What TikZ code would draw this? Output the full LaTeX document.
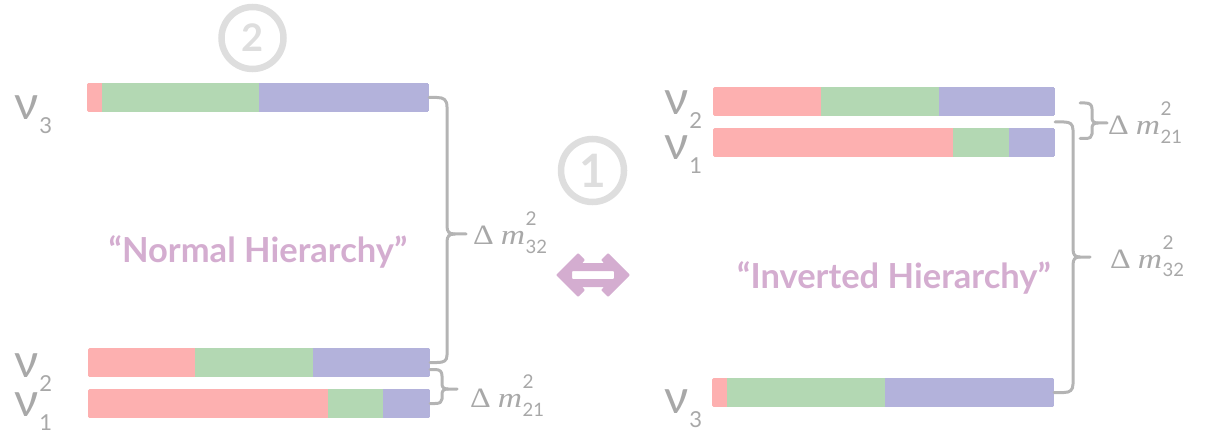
\documentclass[tikz,border=0pt]{standalone}
\usepackage{fontspec}
\setmainfont{Lato}
\newfontfamily\serifm{Liberation Serif}
\usepackage{graphicx}
\usetikzlibrary{fit,calc}
\definecolor{bred}{RGB}{253,176,176}
\definecolor{bgreen}{RGB}{179,216,179}
\definecolor{bblue}{RGB}{179,178,219}
\definecolor{lgrey}{RGB}{168,168,168}
\definecolor{brgrey}{RGB}{180,180,180}
\definecolor{cgrey}{RGB}{222,222,222}
\definecolor{purp}{RGB}{212,173,208}
\newcommand\colbar[7]{%
  \begin{scope}
    \clip[rounded corners=1.5pt] (#2,#6) rectangle (#5,#7);
    \fill[bred] (#2,#6) rectangle (#3,#7);
    \fill[bgreen] (#3,#6) rectangle (#4,#7);
    \fill[bblue] (#4,#6) rectangle (#5,#7);
  \end{scope}
  \node[fit={(#2,#6) (#5,#7)}, inner sep=0pt] (#1) {};
}
\newcommand\nulab[3]{%
  \node[nulabel] (#1) at (#2) {\fontsize{47}{47}\selectfont ν\kern1pt\raisebox{-14pt}{\fontsize{22}{22}\selectfont #3}};
}
\newcommand\dm[1]{\scalebox{1.15}[1]{\serifm Δ}\kern7pt\scalebox{1.2}[1]{\serifm\itshape m}\kern0.5pt\raisebox{19pt}{\makebox[0pt][l]{\fontsize{19}{19}\selectfont 2}}\raisebox{-9pt}{\fontsize{18.5}{18.5}\selectfont #1}}
\tikzset{
  nulabel/.style={anchor=base west, inner sep=0pt, text=lgrey},
  dlabel/.style={anchor=base west, inner sep=0pt, text=lgrey, font=\fontsize{28}{32}\selectfont},
  hier/.style={anchor=base, inner sep=0pt, text=purp, font=\fontsize{34.5}{40}\selectfont\bfseries},
  bracket/.style={draw=brgrey, line width=3pt, line cap=round, line join=round},
  ring/.style={draw=cgrey, line width=6.5pt},
  ringnum/.style={inner sep=0pt, text=cgrey, anchor=center},
}
\begin{document}
\begin{tikzpicture}[x=1pt,y=-1pt]
\useasboundingbox (0,0) rectangle (1206,438);

% Normal hierarchy bars
\colbar{nh3}{87}{102}{259}{429}{83}{112}
\colbar{nh2}{88}{195}{313}{430}{348}{377}
\colbar{nh1}{88}{328}{383}{430}{389}{418}
% Inverted hierarchy bars
\colbar{ih2}{713}{821}{939}{1055}{87}{116}
\colbar{ih1}{713}{953}{1009}{1055}{128}{157}
\colbar{ih3}{712}{727}{885}{1054}{378}{407}

% nu labels
\nulab{lnh3}{14,120}{3}
\nulab{lnh2}{14,377}{2}
\nulab{lnh1}{14,416}{1}
\nulab{lih2}{664,115}{2}
\nulab{lih1}{664,160}{1}
\nulab{lih3}{664,413}{3}

% hierarchy names
\node[hier] (nhname) at (258,262) {“Normal Hierarchy”};
\node[hier] (ihname) at (894,288) {“Inverted Hierarchy”};

% circled numbers
\node[circle, ring, minimum size=62pt, inner sep=0pt] (c2) at (252.5,38) {};
\node[ringnum, font=\fontsize{38}{38}\selectfont\bfseries] at (c2) {2};
\node[circle, ring, minimum size=63pt, inner sep=0pt] (c1) at (592.5,170.5) {};
\node[ringnum, font=\fontsize{46}{46}\selectfont\bfseries] at (c1) {1};

% double arrow
\fill[purp, even odd rule, rounded corners=0.8pt, shift={(593,275)}]
  (-37,0) -- (-15,-22) -- (-8,-15) -- (-11,-12) -- (11,-12) -- (8,-15) -- (15,-22) -- (37,0)
  -- (15,22) -- (8,15) -- (11,12) -- (-11,12) -- (-8,15) -- (-15,22) -- cycle
  (-21,-4) rectangle (21,4);

% delta labels
\node[dlabel] (dnh32) at (473,244) {\dm{32}};
\node[dlabel] (dnh21) at (470,407) {\dm{21}};
\node[dlabel] (dih21) at (1108,135) {\dm{21}};
\node[dlabel] (dih32) at (1110,268) {\dm{32}};

% NH big bracket
\draw[bracket] (nh3.east) -- (437,97.5) .. controls (444,97.5) and (447,100) .. (447,107)
  -- (447,226) .. controls (447,232) and (449,234) .. (455,234) -- (466,234);
\draw[bracket] (455,234) .. controls (449,234) and (447,236) .. (447,242)
  -- (447,355) .. controls (447,361) and (444,362.5) .. (437,362.5) -- (nh2.east);
% NH small bracket
\draw[bracket] ($(nh2.east)+(0,7)$) -- (435,369.5) .. controls (440,369.5) and (442,371.5) .. (442,376)
  -- (442,384) .. controls (442,387.5) and (444,389) .. (448,389) -- (457,389);
\draw[bracket] (448,389) .. controls (444,389) and (442,390.5) .. (442,394)
  -- (442,399) .. controls (442,402) and (440,403.5) .. (435,403.5) -- (nh1.east);

% IH small bracket
\coordinate (ihs1) at ($(ih2.east)+(25,1.5)$);
\coordinate (ihs2) at ($(ih1.east)+(25,-4)$);
\draw[bracket] (ihs1) -- (1085,103) .. controls (1090,103) and (1092,105) .. (1092,109)
  -- (1092,118) .. controls (1092,121.5) and (1094,123) .. (1098,123) -- (1107,123);
\draw[bracket] (1098,123) .. controls (1094,123) and (1092,124.5) .. (1092,128)
  -- (1092,134) .. controls (1092,137) and (1090,138.5) .. (1085,138.5) -- (ihs2);

% IH big bracket
\coordinate (ihb) at ($(ih2.south east)!0.5!(ih1.north east)$);
\draw[bracket] (ihb) -- (1064,122) .. controls (1070,122) and (1073,124) .. (1073,130)
  -- (1073,249) .. controls (1073,255) and (1075,257) .. (1080,257) -- (1090,257);
\draw[bracket] (1080,257) .. controls (1075,257) and (1073,259) .. (1073,265)
  -- (1073,384) .. controls (1073,390) and (1070,392.5) .. (1064,392.5) -- (ih3.east);
\end{tikzpicture}
\end{document}
